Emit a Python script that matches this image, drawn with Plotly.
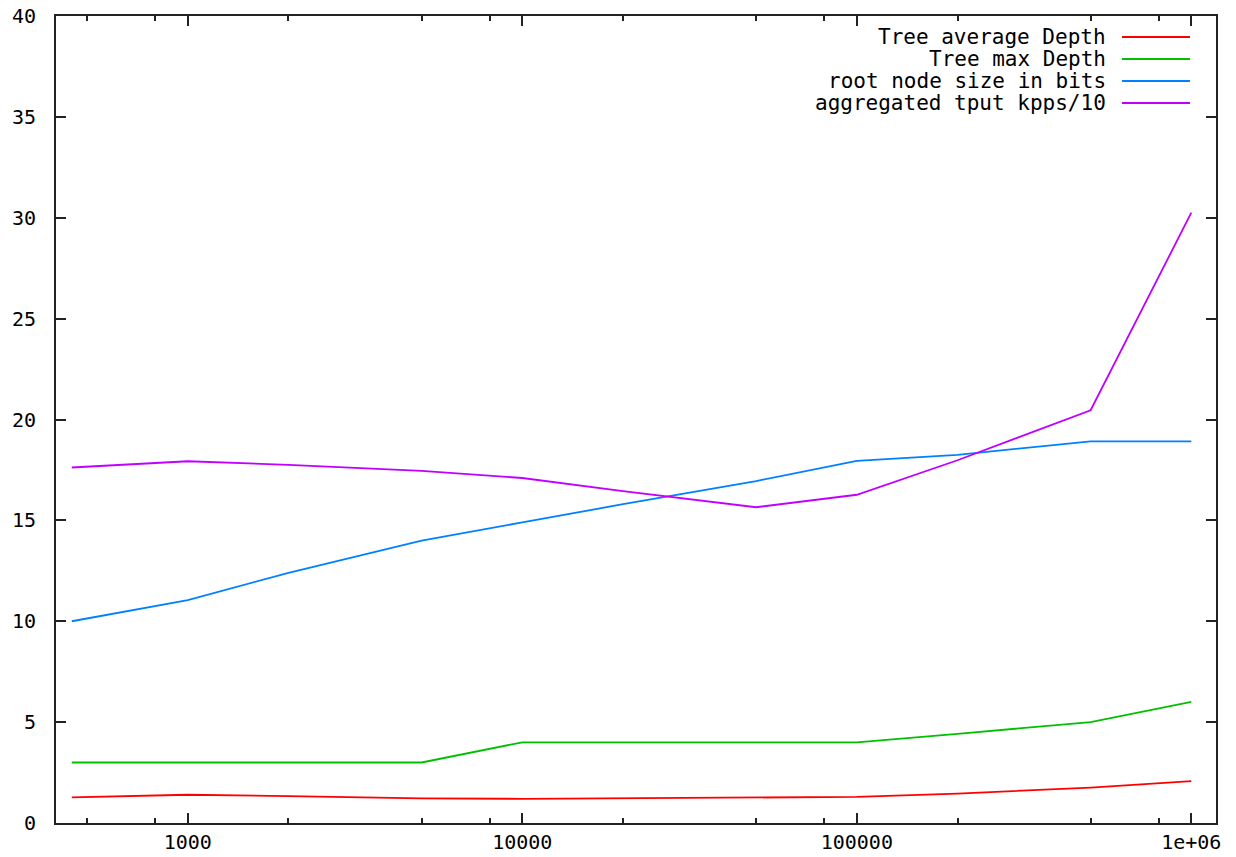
import plotly.graph_objects as go

# ---- data ----
x_vals = [450, 1000, 2000, 5000, 10000, 20000, 50000, 100000, 200000, 500000, 1000000]
avg_depth = [1.27, 1.4, 1.33, 1.22, 1.2, 1.22, 1.28, 1.29, 1.46, 1.75, 2.08]
max_depth = [3, 3, 3, 3, 4, 4, 4, 4, 4.42, 5, 6]
root_bits = [10.0, 11.05, 12.4, 14.0, 14.9, 15.8, 16.95, 17.95, 18.25, 18.92, 18.92]
tput = [17.62, 17.93, 17.75, 17.45, 17.1, 16.45, 15.65, 16.27, 17.98, 20.46, 30.25]

series_names = ["Tree average Depth", "Tree max Depth", "root node size in bits",
                "aggregated tput kpps/10"]
series_colors = ["#ff0000", "#00c000", "#0080ff", "#c000ff"]

x_major = [1000, 10000, 100000, 1000000]
x_major_text = ["1000", "10000", "100000", "1e+06"]
x_minor = [500, 800, 2000, 5000, 8000, 20000, 50000, 80000, 200000, 500000, 800000]
y_ticks = [0, 5, 10, 15, 20, 25, 30, 35, 40]

FONT = "DejaVu Sans Mono"
FS = 20
FS_LEG = 21
W, H = 1236, 857
L, R, T, B = 56, 1216, 16, 823  # plot area in pixels

fig = go.Figure()
for name, ys, col in zip(series_names, [avg_depth, max_depth, root_bits, tput], series_colors):
    fig.add_trace(go.Scatter(x=x_vals, y=ys, mode="lines", name=name,
                             line=dict(color=col, width=1.8), showlegend=False))

def px2paper(px, py):
    return (px - L) / (R - L), (B - py) / (B - T)

# gnuplot-style legend: right-aligned text followed by sample line
legend_rows = [37, 59, 81, 103]
for name, col, py in zip(series_names, series_colors, legend_rows):
    tx, ty = px2paper(1108, py)
    fig.add_annotation(x=tx, y=ty, xref="paper", yref="paper", text=name,
                       showarrow=False, xanchor="right", yanchor="middle",
                       font=dict(family=FONT, size=FS_LEG, color="#000000"))
    x0, y0 = px2paper(1122, py)
    x1, _ = px2paper(1190, py)
    fig.add_shape(type="line", xref="paper", yref="paper", x0=x0, x1=x1, y0=y0, y1=y0,
                  line=dict(color=col, width=1.8))

fig.update_layout(
    width=W, height=H,
    margin=dict(l=L, r=W - R, t=T, b=H - B, autoexpand=False),
    paper_bgcolor="white", plot_bgcolor="white",
    font=dict(family=FONT, size=FS, color="#000000"),
)
fig.update_xaxes(
    type="log", range=[2.606, 6.0738], automargin=False,
    tickmode="array", tickvals=x_major, ticktext=x_major_text,
    ticks="inside", ticklen=10, tickwidth=2, tickcolor="#222222",
    showline=True, linecolor="#222222", linewidth=2, mirror="ticks",
    showgrid=False, zeroline=False,
    tickfont=dict(family=FONT, size=FS, color="#000000"),
    minor=dict(tickmode="array", tickvals=x_minor, ticks="inside", ticklen=5,
               tickwidth=2, tickcolor="#222222", showgrid=False),
)
fig.update_yaxes(
    range=[0, 40], tickmode="array", tickvals=y_ticks, automargin=False,
    ticks="inside", ticklen=10, tickwidth=2, tickcolor="#222222",
    showline=True, linecolor="#222222", linewidth=2, mirror="ticks",
    showgrid=False, zeroline=False, ticklabelstandoff=14,
    tickfont=dict(family=FONT, size=FS, color="#000000"),
)

fig.write_html("out.html", config={"displayModeBar": False},
               post_script="document.body.style.margin='0';document.body.style.overflow='hidden';")
